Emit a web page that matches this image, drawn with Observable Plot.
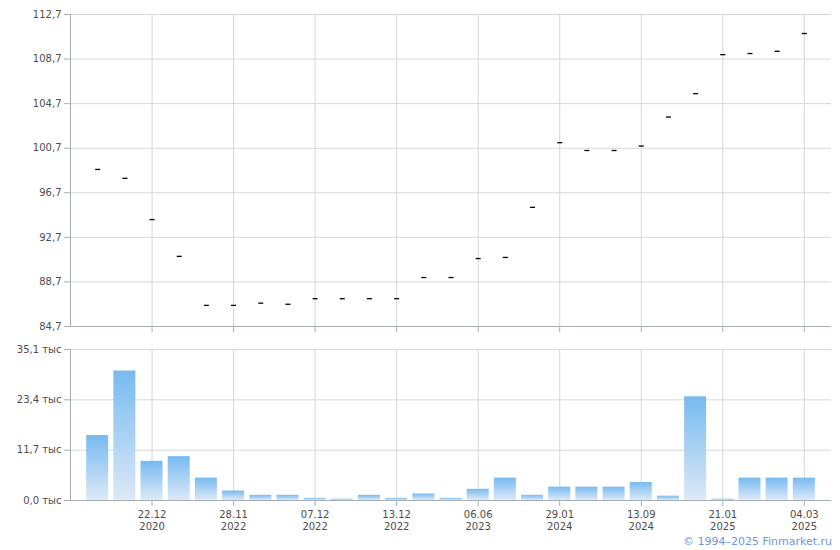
<!DOCTYPE html>
<html><head><meta charset="utf-8">
<script src="https://cdn.jsdelivr.net/npm/d3@7"></script>
<script src="https://cdn.jsdelivr.net/npm/@observablehq/plot@0.6"></script>
<style>
body{margin:0;background:#fff;font-family:"DejaVu Sans",Verdana,sans-serif;}
#wrap{width:840px;height:550px;position:relative;}
#wrap svg{display:block;}
#caption{position:absolute;top:535px;right:8px;font-size:11px;color:#7095e0;font-family:"DejaVu Sans",Verdana,sans-serif;}
</style></head><body><div id="wrap"></div>
<script>
(function(){
// observation order (27 auction/trade dates)
const obs = [1,2,3,4,5,6,7,8,9,10,11,12,13,14,15,16,17,18,19,20,21,22,23,24,25,26,27];
// price, % of par
const price = [98.8,98.0,94.3,91.0,86.6,86.6,86.8,86.7,87.2,87.2,87.2,87.2,89.1,89.1,90.8,90.9,95.4,101.2,100.5,100.5,100.9,103.5,105.6,109.1,109.2,109.4,111.0];
// volume, thousands
const volume = [15.1,30.1,9.1,10.2,5.2,2.2,1.2,1.2,0.5,0.3,1.2,0.5,1.5,0.5,2.6,5.2,1.2,3.1,3.1,3.1,4.2,1.0,24.1,0.3,5.2,5.2,5.2];
// labelled ticks
const tickObs = [3,6,9,12,15,18,21,24,27];
const tickLabels = ["22.12\n2020","28.11\n2022","07.12\n2022","13.12\n2022","06.06\n2023","29.01\n2024","13.09\n2024","21.01\n2025","04.03\n2025"];
const priceTicks = [84.7,88.7,92.7,96.7,100.7,104.7,108.7,112.7];
const volTicks = [0,11.7,23.4,35.1];

const gridColor = "#d3d8dd";
const axisColor = "#a7aeb6";
const comma = v => v.toFixed(1).replace(".", ",");
const xScale = {type:"band", domain: obs, paddingInner:0.19, paddingOuter:0.595, align:0.5, round:false};
const style = {fontFamily:"'DejaVu Sans', Verdana, sans-serif", fontSize:"10px", color:"#4d4d4d", background:"white", overflow:"visible"};

const rows = obs.map((o,i) => ({o, price: price[i], vol: volume[i]}));
const dash = {draw(ctx){ ctx.rect(-2.5,-0.6,5,1.3); }};

const priceChart = Plot.plot({
  width:840, height:340, marginLeft:70, marginRight:9, marginTop:14, marginBottom:14,
  style, x: xScale, y:{domain:[84.7,112.7]},
  marks:[
    Plot.gridY(priceTicks,{stroke:gridColor, strokeOpacity:1}),
    Plot.gridX(tickObs,{stroke:gridColor, strokeOpacity:1}),
    Plot.ruleY([84.7],{stroke:axisColor}),
    Plot.frame({anchor:"left", stroke:axisColor}),
    Plot.axisY({ticks:priceTicks, tickFormat:comma, tickSize:6, tickPadding:3, stroke:axisColor, label:null}),
    Plot.axisX({ticks:tickObs, tickFormat:()=>"", tickSize:6, stroke:axisColor, label:null}),
    Plot.dot(rows,{x:"o", y:"price", symbol:dash, fill:"black", stroke:"none"})
  ]
});

const volChart = Plot.plot({
  width:840, height:190, marginLeft:70, marginRight:9, marginTop:9, marginBottom:30,
  style, x: xScale, y:{domain:[0,35.1]},
  marks:[
    Plot.gridY(volTicks,{stroke:gridColor, strokeOpacity:1}),
    Plot.gridX(tickObs,{stroke:gridColor, strokeOpacity:1}),
    Plot.barY(rows,{x:"o", y:"vol", fill:"url(#volGrad)"}),
    Plot.ruleY([0],{stroke:axisColor}),
    Plot.frame({anchor:"left", stroke:axisColor}),
    Plot.axisY({ticks:volTicks, tickFormat:v => comma(v) + " тыс", tickSize:6, tickPadding:3, stroke:axisColor, label:null}),
    Plot.axisX({ticks:tickObs, tickFormat:o => tickLabels[tickObs.indexOf(o)], tickSize:6, tickPadding:3, lineHeight:1.2, stroke:axisColor, label:null})
  ]
});
const defs = d3.select(volChart).insert("defs", ":first-child");
const g = defs.append("linearGradient").attr("id","volGrad").attr("x1",0).attr("y1",0).attr("x2",0).attr("y2",1);
g.append("stop").attr("offset","0%").attr("stop-color","#77baf0");
g.append("stop").attr("offset","100%").attr("stop-color","#dde9f7");

const wrap = document.getElementById("wrap");
wrap.appendChild(priceChart);
wrap.appendChild(volChart);
const cap = document.createElement("div");
cap.id = "caption";
cap.textContent = "© 1994–2025 Finmarket.ru";
wrap.appendChild(cap);
})();
</script></body></html>
